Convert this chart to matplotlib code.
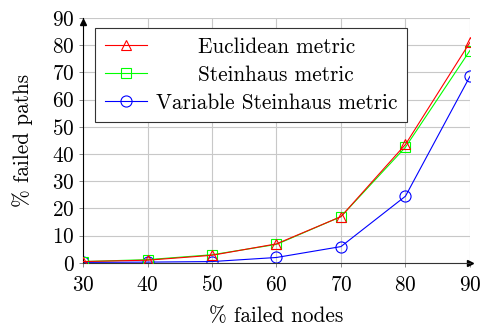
import matplotlib
matplotlib.use("Agg")
import matplotlib.pyplot as plt
import numpy as np

plt.rcParams['font.family'] = ['cmr10', 'DejaVu Serif']
plt.rcParams['mathtext.fontset'] = 'cm'
plt.rcParams['axes.formatter.use_mathtext'] = True

nodes = [30, 40, 50, 60, 70, 80, 90]
euclid = [0.5, 1.0, 2.8, 7.0, 17.0, 43.5, 81.0]
steinhaus = [0.5, 1.2, 3.0, 6.8, 17.0, 42.5, 78.0]
variable = [0.2, 0.3, 0.5, 2.0, 6.0, 24.5, 68.5]

fs = 15.3

fig = plt.figure(figsize=(4.8, 3.25), dpi=100)
ax = fig.add_axes([0.173, 0.191, 0.806, 0.754])

ax.plot(nodes, euclid, color='red', lw=0.8, marker='^', ms=7, mfc='none',
        mew=0.8, label='Euclidean metric', zorder=4)
ax.plot(nodes, steinhaus, color='#00ff00', lw=0.8, marker='s', ms=7.5, mfc='none',
        mew=0.8, label='Steinhaus metric', zorder=3)
ax.plot(nodes, variable, color='blue', lw=0.8, marker='o', ms=8, mfc='none',
        mew=0.8, label='Variable Steinhaus metric', zorder=2)

ax.set_xlim(30, 90)
ax.set_ylim(0, 90)
ax.set_xticks(nodes)
ax.set_yticks(np.arange(0, 91, 10))
ax.grid(True, color='#c8c8c8', lw=0.8)
ax.set_axisbelow(True)
for s in ['top', 'right']:
    ax.spines[s].set_visible(False)
ax.spines['left'].set_linewidth(0.8)
ax.spines['bottom'].set_color('#333333')
ax.spines['bottom'].set_linewidth(0.8)
ax.tick_params(length=3, width=0.6, colors='#777777', labelcolor='black',
               labelsize=fs, direction='out')
ax.tick_params(axis='x', pad=6)
ax.tick_params(axis='y', pad=3)

# arrow tips
ax.plot(1, 0, '>k', ms=4, transform=ax.transAxes, clip_on=False)
ax.plot(0, 0.985, '^k', ms=4, transform=ax.transAxes, clip_on=False)

ax.set_xlabel('% failed nodes', fontsize=fs, labelpad=8)
ax.set_ylabel('% failed paths', fontsize=fs, labelpad=14)

leg = ax.legend(loc='upper left', bbox_to_anchor=(0.031, 0.96), fontsize=fs,
                fancybox=False, framealpha=1, edgecolor='#333333',
                handlelength=2.0, borderpad=0.45, labelspacing=0.4,
                handletextpad=0.4, borderaxespad=0)
leg.get_frame().set_linewidth(0.8)

# centre the legend labels like pgfplots does
fig.canvas.draw()
r = fig.canvas.get_renderer()
widths = [t.get_window_extent(r).width for t in leg.get_texts()]
wmax = max(widths)
for t, w in zip(leg.get_texts(), widths):
    t.set_ha('center')
    t.set_position(((wmax - w) / 2, 0))

fig.savefig('out.png', dpi=100)
